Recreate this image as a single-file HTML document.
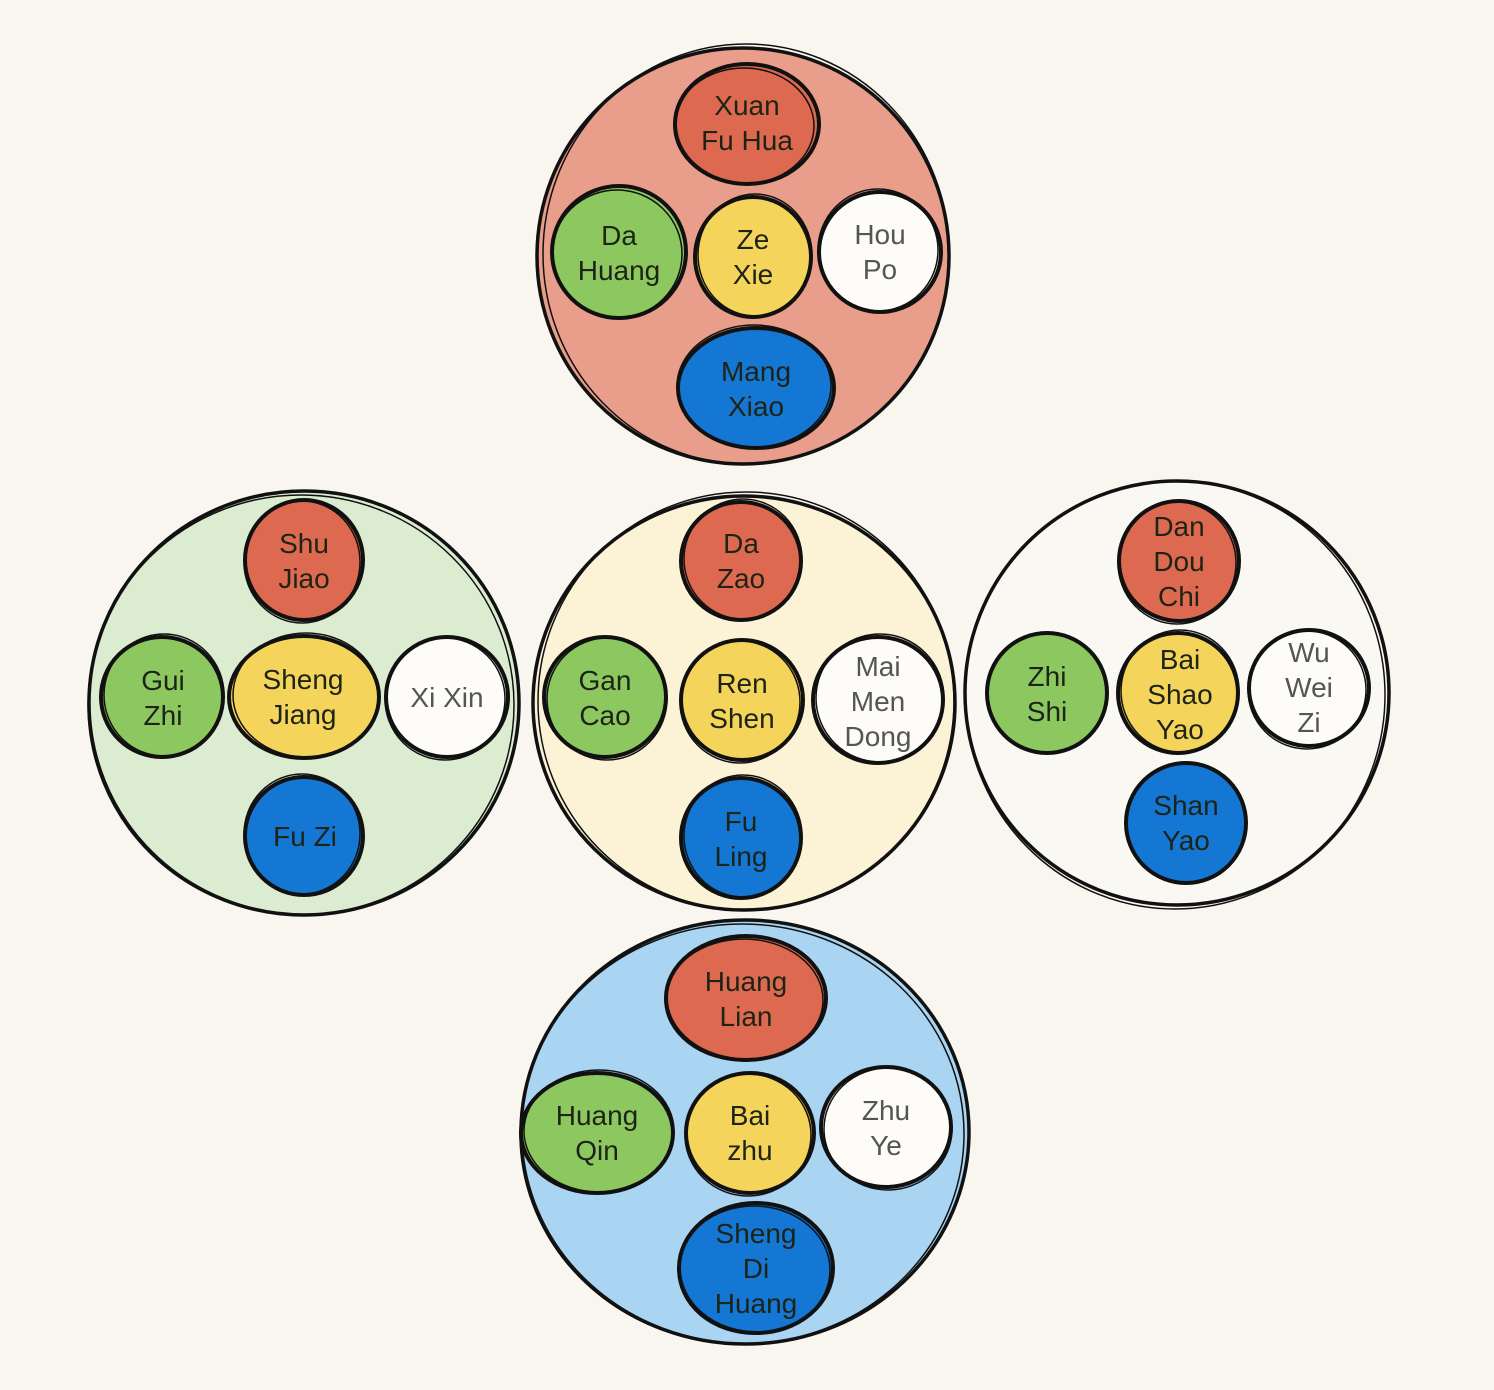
<!DOCTYPE html>
<html><head><meta charset="utf-8"><style>
html,body{margin:0;padding:0;background:#f9f6f0;}
svg{display:block;}
text{font-family:"Liberation Sans",sans-serif;font-size:28px;fill:#1d2416;text-anchor:middle;}
.w text{fill:#555;}
</style></head><body>
<svg width="1494" height="1390" viewBox="0 0 1494 1390" xmlns="http://www.w3.org/2000/svg">
<rect width="1494" height="1390" fill="#f9f6f0"/>
<g stroke="#111" stroke-width="3.5">
<ellipse cx="743" cy="256" rx="206" ry="208" fill="#e89e8a"/>
<ellipse cx="304" cy="703" rx="215" ry="212" fill="#dcecd0"/>
<ellipse cx="744" cy="703" rx="211" ry="207" fill="#fcf3d6"/>
<ellipse cx="1177" cy="693" rx="212" ry="212" fill="#faf8f3"/>
<ellipse cx="745" cy="1132" rx="224" ry="212" fill="#a9d4f2"/>
</g>
<g stroke="#111" stroke-width="1.5" fill="none">
<ellipse cx="746" cy="254" rx="203" ry="210"/>
<ellipse cx="301" cy="705" rx="213" ry="210"/>
<ellipse cx="746" cy="701" rx="208" ry="209"/>
<ellipse cx="1175" cy="695" rx="210" ry="214"/>
<ellipse cx="742" cy="1134" rx="222" ry="210"/>
</g>
<g stroke="#111" stroke-width="4">
<!-- top -->
<ellipse cx="747" cy="124" rx="72" ry="60" fill="#dd6a50"/>
<ellipse cx="619" cy="252" rx="67" ry="66" fill="#8cc760"/>
<ellipse cx="753" cy="257" rx="58" ry="60" fill="#f4d45a"/>
<ellipse cx="880" cy="252" rx="61" ry="60" fill="#fdfcf8"/>
<ellipse cx="756" cy="388" rx="78" ry="60" fill="#1477d4"/>
<!-- left -->
<ellipse cx="304" cy="560" rx="59" ry="60" fill="#dd6a50"/>
<ellipse cx="162" cy="697" rx="61" ry="60" fill="#8cc760"/>
<ellipse cx="304" cy="697" rx="75" ry="61" fill="#f4d45a"/>
<ellipse cx="447" cy="697" rx="61" ry="60" fill="#fdfcf8"/>
<ellipse cx="304" cy="836" rx="59" ry="59" fill="#1477d4"/>
<!-- center -->
<ellipse cx="741" cy="561" rx="60" ry="59" fill="#dd6a50"/>
<ellipse cx="605" cy="697" rx="61" ry="60" fill="#8cc760"/>
<ellipse cx="742" cy="700" rx="61" ry="60" fill="#f4d45a"/>
<ellipse cx="878" cy="700" rx="65" ry="63" fill="#fdfcf8"/>
<ellipse cx="741" cy="838" rx="60" ry="60" fill="#1477d4"/>
<!-- right -->
<ellipse cx="1179" cy="561" rx="60" ry="60" fill="#dd6a50"/>
<ellipse cx="1047" cy="693" rx="60" ry="60" fill="#8cc760"/>
<ellipse cx="1178" cy="693" rx="60" ry="60" fill="#f4d45a"/>
<ellipse cx="1309" cy="688" rx="60" ry="58" fill="#fdfcf8"/>
<ellipse cx="1186" cy="823" rx="60" ry="60" fill="#1477d4"/>
<!-- bottom -->
<ellipse cx="746" cy="998" rx="80" ry="62" fill="#dd6a50"/>
<ellipse cx="597" cy="1133" rx="76" ry="60" fill="#8cc760"/>
<ellipse cx="750" cy="1133" rx="64" ry="60" fill="#f4d45a"/>
<ellipse cx="886" cy="1127" rx="65" ry="60" fill="#fdfcf8"/>
<ellipse cx="756" cy="1268" rx="77" ry="65" fill="#1477d4"/>
</g>
<g stroke="#111" stroke-width="1.5" fill="none">
<ellipse cx="744" cy="126" rx="70" ry="58"/><ellipse cx="617" cy="254" rx="65" ry="64"/>
<ellipse cx="755" cy="255" rx="57" ry="61"/><ellipse cx="878" cy="250" rx="60" ry="61"/>
<ellipse cx="754" cy="386" rx="77" ry="61"/><ellipse cx="302" cy="562" rx="58" ry="61"/>
<ellipse cx="164" cy="695" rx="60" ry="61"/><ellipse cx="306" cy="695" rx="73" ry="62"/>
<ellipse cx="445" cy="699" rx="60" ry="61"/><ellipse cx="302" cy="834" rx="58" ry="60"/>
<ellipse cx="743" cy="559" rx="59" ry="60"/><ellipse cx="607" cy="699" rx="60" ry="61"/>
<ellipse cx="740" cy="702" rx="60" ry="61"/><ellipse cx="880" cy="698" rx="64" ry="64"/>
<ellipse cx="743" cy="836" rx="59" ry="61"/><ellipse cx="1177" cy="563" rx="59" ry="61"/>
<ellipse cx="1180" cy="691" rx="59" ry="61"/><ellipse cx="1307" cy="690" rx="59" ry="59"/>
<ellipse cx="744" cy="1000" rx="79" ry="61"/><ellipse cx="599" cy="1131" rx="75" ry="61"/>
<ellipse cx="748" cy="1135" rx="63" ry="61"/><ellipse cx="888" cy="1129" rx="64" ry="61"/>
<ellipse cx="754" cy="1270" rx="76" ry="64"/>
</g>
<g>
<text x="747" y="115">Xuan</text><text x="747" y="150">Fu Hua</text>
<text x="619" y="245">Da</text><text x="619" y="280">Huang</text>
<text x="753" y="249">Ze</text><text x="753" y="284">Xie</text>
<text x="756" y="381">Mang</text><text x="756" y="416">Xiao</text>
<text x="304" y="553">Shu</text><text x="304" y="588">Jiao</text>
<text x="163" y="690">Gui</text><text x="163" y="725">Zhi</text>
<text x="303" y="689">Sheng</text><text x="303" y="724">Jiang</text>
<text x="305" y="846">Fu Zi</text>
<text x="741" y="553">Da</text><text x="741" y="588">Zao</text>
<text x="605" y="690">Gan</text><text x="605" y="725">Cao</text>
<text x="742" y="693">Ren</text><text x="742" y="728">Shen</text>
<text x="741" y="831">Fu</text><text x="741" y="866">Ling</text>
<text x="1179" y="536">Dan</text><text x="1179" y="571">Dou</text><text x="1179" y="606">Chi</text>
<text x="1047" y="686">Zhi</text><text x="1047" y="721">Shi</text>
<text x="1180" y="669">Bai</text><text x="1180" y="704">Shao</text><text x="1180" y="739">Yao</text>
<text x="1186" y="815">Shan</text><text x="1186" y="850">Yao</text>
<text x="746" y="991">Huang</text><text x="746" y="1026">Lian</text>
<text x="597" y="1125">Huang</text><text x="597" y="1160">Qin</text>
<text x="750" y="1125">Bai</text><text x="750" y="1160">zhu</text>
<text x="756" y="1243">Sheng</text><text x="756" y="1278">Di</text><text x="756" y="1313">Huang</text>
</g>
<g class="w">
<text x="880" y="244">Hou</text><text x="880" y="279">Po</text>
<text x="447" y="707">Xi Xin</text>
<text x="878" y="676">Mai</text><text x="878" y="711">Men</text><text x="878" y="746">Dong</text>
<text x="1309" y="662">Wu</text><text x="1309" y="697">Wei</text><text x="1309" y="732">Zi</text>
<text x="886" y="1120">Zhu</text><text x="886" y="1155">Ye</text>
</g>
</svg>
</body></html>
